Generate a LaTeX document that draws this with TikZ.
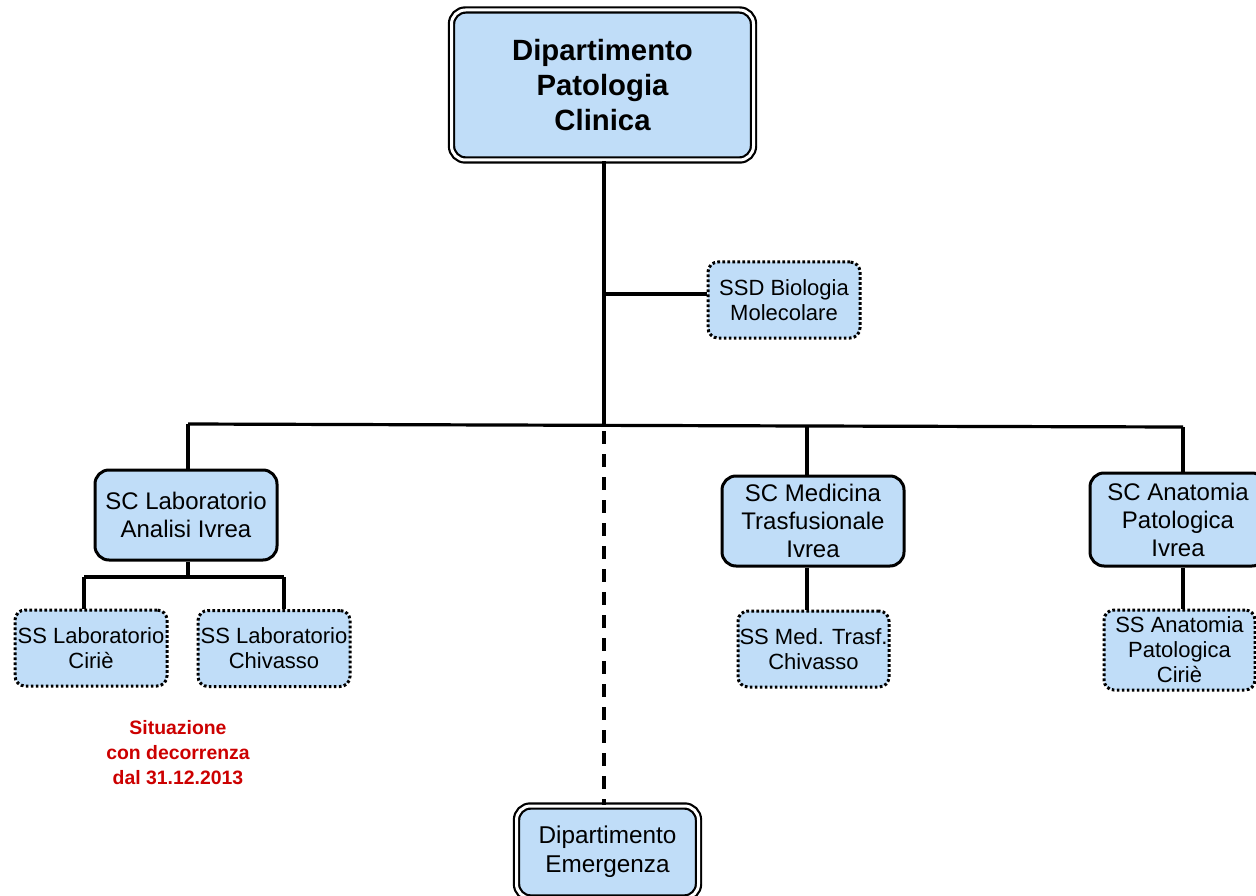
\documentclass[tikz,border=0pt]{standalone}
\usepackage{fontspec}
\setmainfont{Liberation Sans}
\definecolor{boxblue}{RGB}{192,221,248}
\definecolor{redtext}{RGB}{204,0,0}
\tikzset{
  x=1pt, y=-1pt,
  conn/.style={line width=3.2pt},
  dept/.style={rounded corners=14pt, draw, line width=2.2pt, double=white, double distance=3pt, fill=boxblue,
    inner sep=0pt, align=center},
  scbox/.style={rounded corners=14pt, draw, line width=3pt, fill=boxblue, inner sep=0pt, align=center,
    minimum width=182pt, minimum height=90pt, font=\fontsize{24}{28}\selectfont},
  ssbox/.style={rounded corners=10pt, draw, line width=3pt, dash pattern=on 2.7pt off 2.3pt, fill=boxblue,
    inner sep=0pt, align=center, minimum width=152pt, minimum height=76pt, font=\fontsize{22}{25}\selectfont},
}
\begin{document}
\begin{tikzpicture}
\useasboundingbox (0,0) rectangle (1256,896);
% nodes
\node[dept, minimum width=302pt, minimum height=150pt, font=\bfseries\fontsize{29.3}{35}\selectfont] (top) at (602.5,85) {Dipartimento\\Patologia\\Clinica};
\node[ssbox] (ssd) at (784,300) {SSD Biologia\\Molecolare};
\node[scbox] (sclab) at (186,515) {SC Laboratorio\\Analisi Ivrea};
\node[scbox] (scmed) at (813,521) {SC Medicina\\Trasfusionale\\Ivrea};
\node[scbox, minimum width=176pt, minimum height=93pt] (scana) at (1178,519.5) {SC Anatomia\\Patologica\\Ivrea};
\node[ssbox] (sscir) at (91,648) {SS Laboratorio\\Ciri\`e};
\node[ssbox] (sschi) at (274,648.5) {SS Laboratorio\\Chivasso};
\node[ssbox, minimum width=151pt] (ssmed) at (813.5,649) {SS Med. Trasf.\\Chivasso};
\node[ssbox, minimum width=151pt, minimum height=80pt] (ssana) at (1179.5,650) {SS Anatomia\\Patologica\\Ciri\`e};
\node[dept, minimum width=182pt, minimum height=92pt, font=\fontsize{24.3}{29}\selectfont] (emerg) at (607.5,852) {Dipartimento\\Emergenza};
\node[text=redtext, align=center, font=\bfseries\fontsize{19.4}{25}\selectfont, inner sep=0pt] (note) at (178,753) {Situazione\\con decorrenza\\dal 31.12.2013};
% junctions
\coordinate (j0) at (604,425);
\coordinate (jb) at (604,294);
\coordinate (jl) at (188,424);
\coordinate (jm) at (807,426);
\coordinate (jr) at (1183,427);
\coordinate (jlab) at (188,577);
\coordinate (jlabl) at (84,577);
\coordinate (jlabr) at (284,577);
% connectors
\draw[conn] (top.south -| j0) -- (j0);
\draw[conn] (jb) -- (jb -| ssd.west);
\draw[conn] (jl) -- (jm) -- (jr);
\draw[conn] (jl) -- (jl |- sclab.north);
\draw[conn] (jm) -- (jm |- scmed.north);
\draw[conn] (jr) -- (jr |- scana.north);
\draw[conn, dash pattern=on 13pt off 10pt, dash phase=-6pt] (j0) -- (j0 |- emerg.north);
\draw[conn] (sclab.south -| jlab) -- (jlab);
\draw[conn] (jlabl) -- (jlabr);
\draw[conn] (jlabl) -- (jlabl |- sscir.north);
\draw[conn] (jlabr) -- (jlabr |- sschi.north);
\draw[conn] (scmed.south -| jm) -- (jm |- ssmed.north);
\draw[conn] (scana.south -| jr) -- (jr |- ssana.north);
\end{tikzpicture}
\end{document}
